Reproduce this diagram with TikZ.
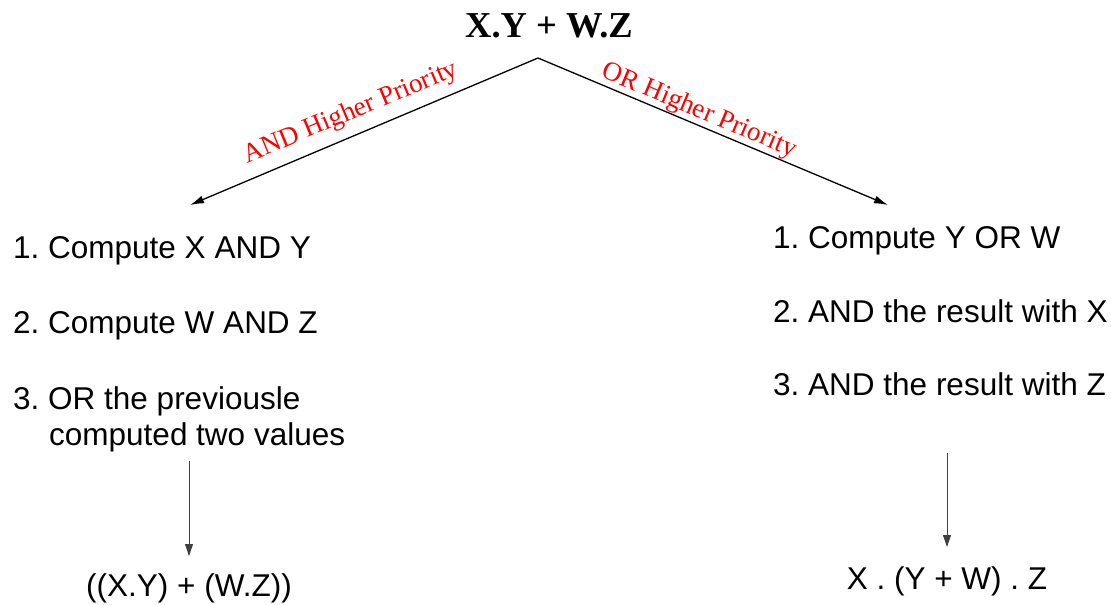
\documentclass[tikz,border=0pt]{standalone}
\usepackage{fontspec}
\setmainfont{Liberation Serif}
\newfontfamily\arialfont{Liberation Sans}
\usetikzlibrary{arrows.meta}
\frenchspacing
\tikzset{
  titletext/.style={font=\fontsize{36.5}{42}\selectfont\bfseries, inner sep=0pt},
  redlabel/.style={font=\fontsize{27}{32}\selectfont, text=red, inner sep=0pt},
  listtext/.style={font=\arialfont\fontsize{31.5}{38}\selectfont, inner sep=0pt, anchor=base west},
  restext/.style={font=\arialfont\fontsize{31.5}{38}\selectfont, inner sep=0pt, anchor=base},
  diag/.style={line width=1.3pt, -{Latex[length=14pt,width=8pt]}},
  vert/.style={line width=0.9pt, draw=black!75, -{Triangle[length=12pt,width=8pt]}, shorten >=1pt}
}
\begin{document}
\begin{tikzpicture}[x=1pt,y=-1pt]
\useasboundingbox (0,0) rectangle (1111,605);
\node[titletext, anchor=base] (title) at (549,37) {X.Y + W.Z};
\coordinate (apex) at (538,58);
\coordinate (ltip) at (190,205);
\coordinate (rtip) at (888,205);
\draw[diag] (apex) -- (ltip);
\draw[diag] (apex) -- (rtip);
\node[redlabel, rotate=22.6] (andlab) at (351,113) {AND Higher Priority};
\node[redlabel, rotate=-22.8] (orlab) at (699,111) {OR Higher Priority};
% left list
\node[listtext] (l1) at (13,258) {1. Compute X AND Y};
\node[listtext] (l2) at (13,333) {2. Compute W AND Z};
\node[listtext] (l3) at (13,409) {3. OR the previousle};
\node[listtext] (l4) at (49,445) {computed two values};
% right list
\node[listtext] (r1) at (773,248) {1. Compute Y OR W};
\node[listtext] (r2) at (773,322) {2. AND the result with X};
\node[listtext] (r3) at (773,395) {3. AND the result with Z};
% results
\node[restext] (lres) at (189,596) {((X.Y) + (W.Z))};
\node[restext] (rres) at (947,589) {X . (Y + W) . Z};
\coordinate (lstart) at (189,461);
\coordinate (rstart) at (947,453);
\draw[vert] (lstart) -- (lres.north |- 0,557);
\draw[vert] (rstart) -- (rres.north |- 0,548);
\end{tikzpicture}
\end{document}
